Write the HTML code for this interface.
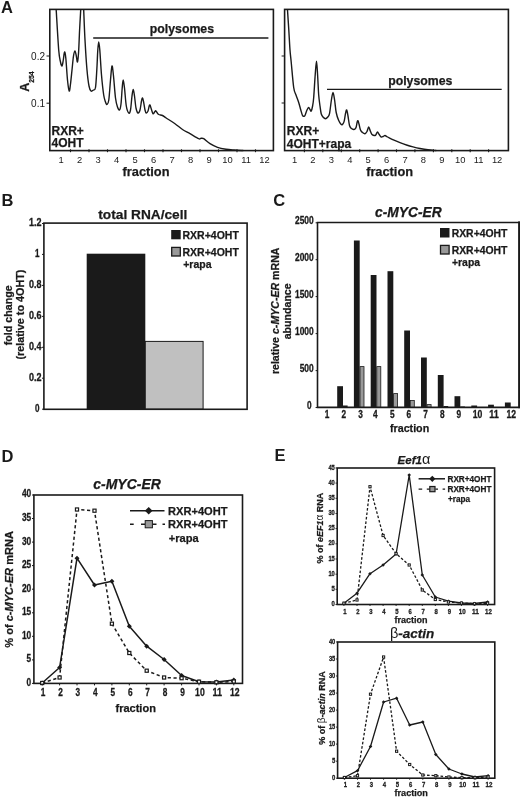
<!DOCTYPE html>
<html><head><meta charset="utf-8"><title>Figure</title>
<style>html,body{margin:0;padding:0;background:#fff}svg{display:block;filter:grayscale(1)}text{font-family:"Liberation Sans",Arial,sans-serif;fill:#1a1a1a}</style></head><body>
<svg width="520" height="797" viewBox="0 0 520 797">
<rect width="520" height="797" fill="#fff"/>
<text x="1" y="12.6" font-size="16.5" font-weight="bold" text-anchor="start">A</text>
<rect x="49.8" y="9.4" width="223.6" height="141.2" fill="none" stroke="#1a1a1a" stroke-width="1.6"/>
<path d="M56.2,10 C56.62,16.67 57.98,41.33 58.7,50 C59.42,58.67 59.95,59.33 60.5,62 C61.05,64.67 61.53,66.33 62,66 C62.47,65.67 62.88,62.33 63.3,60 C63.72,57.67 64.08,52.33 64.5,52 C64.92,51.67 65.30,53.33 65.8,58 C66.30,62.67 66.93,74.50 67.5,80 C68.07,85.50 68.70,90.33 69.2,91 C69.70,91.67 70.03,87.50 70.5,84 C70.97,80.50 71.50,74.67 72,70 C72.50,65.33 73.00,59.17 73.5,56 C74.00,52.83 74.53,51.00 75,51 C75.47,51.00 75.88,54.17 76.3,56 C76.72,57.83 77.12,62.67 77.5,62 C77.88,61.33 78.25,57.33 78.6,52 C78.95,46.67 79.25,37.00 79.6,30 C79.95,23.00 80.52,13.33 80.7,10" fill="none" stroke="#1a1a1a" stroke-width="1.4" stroke-linejoin="round" stroke-linecap="round"/>
<path d="M83.7,10 C83.92,15.00 84.45,30.00 85,40 C85.55,50.00 86.33,62.33 87,70 C87.67,77.67 88.33,82.50 89,86 C89.67,89.50 90.25,90.33 91,91 C91.75,91.67 92.75,90.58 93.5,90 C94.25,89.42 94.95,90.83 95.5,87.5 C96.05,84.17 96.42,76.25 96.8,70 C97.18,63.75 97.48,54.67 97.8,50 C98.12,45.33 98.37,42.00 98.7,42 C99.03,42.00 99.33,44.50 99.8,50 C100.27,55.50 100.85,67.50 101.5,75 C102.15,82.50 103.03,90.50 103.7,95 C104.37,99.50 104.95,100.42 105.5,102 C106.05,103.58 106.45,104.83 107,104.5 C107.55,104.17 108.22,104.08 108.8,100 C109.38,95.92 109.97,85.67 110.5,80 C111.03,74.33 111.50,66.67 112,66 C112.50,65.33 112.92,70.67 113.5,76 C114.08,81.33 114.83,92.83 115.5,98 C116.17,103.17 116.83,105.00 117.5,107 C118.17,109.00 118.92,110.50 119.5,110 C120.08,109.50 120.55,107.67 121,104 C121.45,100.33 121.83,92.00 122.2,88 C122.57,84.00 122.82,80.00 123.2,80 C123.58,80.00 123.98,83.67 124.5,88 C125.02,92.33 125.60,101.83 126.3,106 C127.00,110.17 128.00,112.33 128.7,113 C129.40,113.67 129.95,112.83 130.5,110 C131.05,107.17 131.55,99.42 132,96 C132.45,92.58 132.78,89.50 133.2,89.5 C133.62,89.50 134.03,92.92 134.5,96 C134.97,99.08 135.42,105.17 136,108 C136.58,110.83 137.33,112.67 138,113 C138.67,113.33 139.42,112.00 140,110 C140.58,108.00 141.08,103.00 141.5,101 C141.92,99.00 142.15,97.83 142.5,98 C142.85,98.17 143.18,100.00 143.6,102 C144.02,104.00 144.57,108.17 145,110 C145.43,111.83 145.70,112.83 146.2,113 C146.70,113.17 147.50,112.17 148,111 C148.50,109.83 148.87,107.00 149.2,106 C149.53,105.00 149.70,104.67 150,105 C150.30,105.33 150.50,106.55 151,108 C151.50,109.45 152.40,113.03 153,113.7 C153.60,114.37 154.15,112.50 154.6,112 C155.05,111.50 155.30,110.62 155.7,110.7 C156.10,110.78 156.50,111.87 157,112.5 C157.50,113.13 157.78,114.00 158.7,114.5 C159.62,115.00 161.25,114.92 162.5,115.5 C163.75,116.08 164.12,116.63 166.2,118 C168.28,119.37 172.28,121.78 175,123.7 C177.72,125.62 180.00,127.83 182.5,129.5 C185.00,131.17 187.30,132.17 190,133.7 C192.70,135.23 196.87,137.93 198.7,138.7 C200.53,139.47 200.17,138.30 201,138.3 C201.83,138.30 202.20,137.80 203.7,138.7 C205.20,139.60 207.70,142.27 210,143.7 C212.30,145.13 214.83,146.38 217.5,147.3 C220.17,148.22 223.25,148.75 226,149.2 C228.75,149.65 231.17,149.78 234,150 C236.83,150.22 241.50,150.42 243,150.5" fill="none" stroke="#1a1a1a" stroke-width="1.4" stroke-linejoin="round" stroke-linecap="round"/>
<line x1="93.2" y1="38" x2="268.4" y2="38" stroke="#1a1a1a" stroke-width="1.4"/>
<text x="181.9" y="33.4" font-size="12.3" font-weight="bold" text-anchor="middle" stroke="#1a1a1a" stroke-width="0.25">polysomes</text>
<line x1="46.5" y1="56" x2="49.8" y2="56" stroke="#1a1a1a" stroke-width="1"/>
<text x="45" y="59.6" font-size="10" font-weight="normal" text-anchor="end">0.2</text>
<line x1="46.5" y1="103.2" x2="49.8" y2="103.2" stroke="#1a1a1a" stroke-width="1"/>
<text x="45" y="106.8" font-size="10" font-weight="normal" text-anchor="end">0.1</text>
<text transform="translate(29.2,81.6) rotate(-90)" font-size="12.5" font-weight="bold" text-anchor="middle" stroke="#1a1a1a" stroke-width="0.25" >A<tspan font-size="6.9" dy="4.4">254</tspan></text>
<text x="51.5" y="134.6" font-size="12" font-weight="bold" text-anchor="start" stroke="#1a1a1a" stroke-width="0.25">RXR+</text>
<text x="51.5" y="147.2" font-size="12" font-weight="bold" text-anchor="start" stroke="#1a1a1a" stroke-width="0.25">4OHT</text>
<text x="61.0" y="162.6" font-size="9.4" font-weight="normal" text-anchor="middle">1</text>
<line x1="70.5" y1="149.3" x2="70.5" y2="152.2" stroke="#1a1a1a" stroke-width="1.1"/>
<text x="79.5" y="162.6" font-size="9.4" font-weight="normal" text-anchor="middle">2</text>
<line x1="89.0" y1="149.3" x2="89.0" y2="152.2" stroke="#1a1a1a" stroke-width="1.1"/>
<text x="98.0" y="162.6" font-size="9.4" font-weight="normal" text-anchor="middle">3</text>
<line x1="107.5" y1="149.3" x2="107.5" y2="152.2" stroke="#1a1a1a" stroke-width="1.1"/>
<text x="116.5" y="162.6" font-size="9.4" font-weight="normal" text-anchor="middle">4</text>
<line x1="126.0" y1="149.3" x2="126.0" y2="152.2" stroke="#1a1a1a" stroke-width="1.1"/>
<text x="135.0" y="162.6" font-size="9.4" font-weight="normal" text-anchor="middle">5</text>
<line x1="144.5" y1="149.3" x2="144.5" y2="152.2" stroke="#1a1a1a" stroke-width="1.1"/>
<text x="153.5" y="162.6" font-size="9.4" font-weight="normal" text-anchor="middle">6</text>
<line x1="163.0" y1="149.3" x2="163.0" y2="152.2" stroke="#1a1a1a" stroke-width="1.1"/>
<text x="172.0" y="162.6" font-size="9.4" font-weight="normal" text-anchor="middle">7</text>
<line x1="181.5" y1="149.3" x2="181.5" y2="152.2" stroke="#1a1a1a" stroke-width="1.1"/>
<text x="190.5" y="162.6" font-size="9.4" font-weight="normal" text-anchor="middle">8</text>
<line x1="200.0" y1="149.3" x2="200.0" y2="152.2" stroke="#1a1a1a" stroke-width="1.1"/>
<text x="209.0" y="162.6" font-size="9.4" font-weight="normal" text-anchor="middle">9</text>
<line x1="218.5" y1="149.3" x2="218.5" y2="152.2" stroke="#1a1a1a" stroke-width="1.1"/>
<text x="227.5" y="162.6" font-size="9.4" font-weight="normal" text-anchor="middle">10</text>
<line x1="237.0" y1="149.3" x2="237.0" y2="152.2" stroke="#1a1a1a" stroke-width="1.1"/>
<text x="246.0" y="162.6" font-size="9.4" font-weight="normal" text-anchor="middle">11</text>
<line x1="255.5" y1="149.3" x2="255.5" y2="152.2" stroke="#1a1a1a" stroke-width="1.1"/>
<text x="264.5" y="162.6" font-size="9.4" font-weight="normal" text-anchor="middle">12</text>
<text x="146" y="176" font-size="12.8" font-weight="bold" text-anchor="middle" stroke="#1a1a1a" stroke-width="0.25">fraction</text>
<rect x="284.6" y="9.4" width="223.8" height="141.2" fill="none" stroke="#1a1a1a" stroke-width="1.6"/>
<path d="M287.5,10 C287.72,13.33 288.38,23.33 288.8,30 C289.22,36.67 289.60,44.67 290,50 C290.40,55.33 290.58,55.75 291.2,62 C291.82,68.25 292.90,82.00 293.7,87.5 C294.50,93.00 295.17,92.50 296,95 C296.83,97.50 297.90,100.00 298.7,102.5 C299.50,105.00 300.17,107.83 300.8,110 C301.43,112.17 302.00,114.45 302.5,115.5 C303.00,116.55 303.38,116.30 303.8,116.3 C304.22,116.30 304.47,116.55 305,115.5 C305.53,114.45 306.38,111.33 307,110 C307.62,108.67 308.20,107.58 308.7,107.5 C309.20,107.42 309.58,108.88 310,109.5 C310.42,110.12 310.77,111.78 311.2,111.2 C311.63,110.62 312.18,108.28 312.6,106 C313.02,103.72 313.27,102.67 313.7,97.5 C314.13,92.33 314.73,81.05 315.2,75 C315.67,68.95 316.10,61.20 316.5,61.2 C316.90,61.20 317.23,69.37 317.6,75 C317.97,80.63 318.30,89.83 318.7,95 C319.10,100.17 319.58,102.88 320,106 C320.42,109.12 320.70,111.87 321.2,113.7 C321.70,115.53 322.28,116.17 323,117 C323.72,117.83 324.70,118.70 325.5,118.7 C326.30,118.70 327.13,117.83 327.8,117 C328.47,116.17 328.90,116.53 329.5,113.7 C330.10,110.87 330.82,103.53 331.4,100 C331.98,96.47 332.47,92.50 333,92.5 C333.53,92.50 334.07,96.67 334.6,100 C335.13,103.33 335.55,109.17 336.2,112.5 C336.85,115.83 337.67,118.00 338.5,120 C339.33,122.00 340.48,123.83 341.2,124.5 C341.92,125.17 342.30,124.55 342.8,124 C343.30,123.45 343.73,123.03 344.2,121.2 C344.67,119.37 345.18,114.87 345.6,113 C346.02,111.13 346.30,109.50 346.7,110 C347.10,110.50 347.53,113.42 348,116 C348.47,118.58 348.92,123.42 349.5,125.5 C350.08,127.58 350.80,127.83 351.5,128.5 C352.20,129.17 353.12,129.42 353.7,129.5 C354.28,129.58 354.58,129.42 355,129 C355.42,128.58 355.83,128.17 356.2,127 C356.57,125.83 356.90,123.05 357.2,122 C357.50,120.95 357.70,120.37 358,120.7 C358.30,121.03 358.58,122.45 359,124 C359.42,125.55 359.92,128.58 360.5,130 C361.08,131.42 361.75,131.88 362.5,132.5 C363.25,133.12 364.25,133.87 365,133.7 C365.75,133.53 366.38,132.62 367,131.5 C367.62,130.38 368.15,127.08 368.7,127 C369.25,126.92 369.75,129.75 370.3,131 C370.85,132.25 371.22,133.75 372,134.5 C372.78,135.25 374.28,135.58 375,135.5 C375.72,135.42 375.88,134.58 376.3,134 C376.72,133.42 377.02,131.92 377.5,132 C377.98,132.08 378.58,133.67 379.2,134.5 C379.82,135.33 380.53,136.67 381.2,137 C381.87,137.33 382.57,136.75 383.2,136.5 C383.83,136.25 384.40,135.48 385,135.5 C385.60,135.52 386.10,136.20 386.8,136.6 C387.50,137.00 388.00,137.30 389.2,137.9 C390.40,138.50 392.20,139.42 394,140.2 C395.80,140.98 397.92,141.80 400,142.6 C402.08,143.40 404.33,144.28 406.5,145 C408.67,145.72 410.75,146.32 413,146.9 C415.25,147.48 417.50,148.02 420,148.5 C422.50,148.98 425.33,149.47 428,149.8 C430.67,150.13 434.67,150.38 436,150.5" fill="none" stroke="#1a1a1a" stroke-width="1.4" stroke-linejoin="round" stroke-linecap="round"/>
<line x1="327" y1="89.4" x2="501.7" y2="89.4" stroke="#1a1a1a" stroke-width="1.4"/>
<text x="420.3" y="84.8" font-size="12.3" font-weight="bold" text-anchor="middle" stroke="#1a1a1a" stroke-width="0.25">polysomes</text>
<line x1="281.6" y1="56" x2="284.6" y2="56" stroke="#1a1a1a" stroke-width="1"/>
<line x1="281.6" y1="103" x2="284.6" y2="103" stroke="#1a1a1a" stroke-width="1"/>
<text x="286.8" y="134.6" font-size="12" font-weight="bold" text-anchor="start" stroke="#1a1a1a" stroke-width="0.25">RXR+</text>
<text x="286.8" y="147.6" font-size="12" font-weight="bold" text-anchor="start" stroke="#1a1a1a" stroke-width="0.25">4OHT+rapa</text>
<text x="294.5" y="162.6" font-size="9.4" font-weight="normal" text-anchor="middle">1</text>
<line x1="304.4" y1="149.3" x2="304.4" y2="152.2" stroke="#1a1a1a" stroke-width="1.1"/>
<text x="312.9" y="162.6" font-size="9.4" font-weight="normal" text-anchor="middle">2</text>
<line x1="322.8" y1="149.3" x2="322.8" y2="152.2" stroke="#1a1a1a" stroke-width="1.1"/>
<text x="331.3" y="162.6" font-size="9.4" font-weight="normal" text-anchor="middle">3</text>
<line x1="341.3" y1="149.3" x2="341.3" y2="152.2" stroke="#1a1a1a" stroke-width="1.1"/>
<text x="349.8" y="162.6" font-size="9.4" font-weight="normal" text-anchor="middle">4</text>
<line x1="359.7" y1="149.3" x2="359.7" y2="152.2" stroke="#1a1a1a" stroke-width="1.1"/>
<text x="368.2" y="162.6" font-size="9.4" font-weight="normal" text-anchor="middle">5</text>
<line x1="378.1" y1="149.3" x2="378.1" y2="152.2" stroke="#1a1a1a" stroke-width="1.1"/>
<text x="386.6" y="162.6" font-size="9.4" font-weight="normal" text-anchor="middle">6</text>
<line x1="396.5" y1="149.3" x2="396.5" y2="152.2" stroke="#1a1a1a" stroke-width="1.1"/>
<text x="405.0" y="162.6" font-size="9.4" font-weight="normal" text-anchor="middle">7</text>
<line x1="414.9" y1="149.3" x2="414.9" y2="152.2" stroke="#1a1a1a" stroke-width="1.1"/>
<text x="423.4" y="162.6" font-size="9.4" font-weight="normal" text-anchor="middle">8</text>
<line x1="433.4" y1="149.3" x2="433.4" y2="152.2" stroke="#1a1a1a" stroke-width="1.1"/>
<text x="441.9" y="162.6" font-size="9.4" font-weight="normal" text-anchor="middle">9</text>
<line x1="451.8" y1="149.3" x2="451.8" y2="152.2" stroke="#1a1a1a" stroke-width="1.1"/>
<text x="460.3" y="162.6" font-size="9.4" font-weight="normal" text-anchor="middle">10</text>
<line x1="470.2" y1="149.3" x2="470.2" y2="152.2" stroke="#1a1a1a" stroke-width="1.1"/>
<text x="478.7" y="162.6" font-size="9.4" font-weight="normal" text-anchor="middle">11</text>
<line x1="488.6" y1="149.3" x2="488.6" y2="152.2" stroke="#1a1a1a" stroke-width="1.1"/>
<text x="497.1" y="162.6" font-size="9.4" font-weight="normal" text-anchor="middle">12</text>
<text x="389.6" y="176.2" font-size="12.8" font-weight="bold" text-anchor="middle" stroke="#1a1a1a" stroke-width="0.25">fraction</text>
<text x="1.6" y="205.6" font-size="16.5" font-weight="bold" text-anchor="start">B</text>
<text x="142.8" y="218.7" font-size="13.7" font-weight="bold" text-anchor="middle" stroke="#1a1a1a" stroke-width="0.25">total RNA/cell</text>
<rect x="86.7" y="253.7" width="58.6" height="155.5" fill="#1a1a1a"/>
<rect x="145.3" y="341.4" width="57.8" height="67.8" fill="#c0c0c0" stroke="#1a1a1a" stroke-width="1"/>
<rect x="43.9" y="223.1" width="203.2" height="186.2" fill="none" stroke="#1a1a1a" stroke-width="1.6"/>
<line x1="42" y1="409.2" x2="44" y2="409.2" stroke="#1a1a1a" stroke-width="1"/>
<text x="39.4" y="411.8" font-size="10" font-weight="bold" text-anchor="end" textLength="4.5" lengthAdjust="spacingAndGlyphs" stroke="#1a1a1a" stroke-width="0.3">0</text>
<line x1="42" y1="378.2" x2="44" y2="378.2" stroke="#1a1a1a" stroke-width="1"/>
<text x="41.6" y="380.9" font-size="10" font-weight="bold" text-anchor="end" textLength="12.5" lengthAdjust="spacingAndGlyphs" stroke="#1a1a1a" stroke-width="0.3">0.2</text>
<line x1="42" y1="347.3" x2="44" y2="347.3" stroke="#1a1a1a" stroke-width="1"/>
<text x="41.6" y="349.9" font-size="10" font-weight="bold" text-anchor="end" textLength="12.5" lengthAdjust="spacingAndGlyphs" stroke="#1a1a1a" stroke-width="0.3">0.4</text>
<line x1="42" y1="316.4" x2="44" y2="316.4" stroke="#1a1a1a" stroke-width="1"/>
<text x="41.6" y="319.0" font-size="10" font-weight="bold" text-anchor="end" textLength="12.5" lengthAdjust="spacingAndGlyphs" stroke="#1a1a1a" stroke-width="0.3">0.6</text>
<line x1="42" y1="285.4" x2="44" y2="285.4" stroke="#1a1a1a" stroke-width="1"/>
<text x="41.6" y="288.0" font-size="10" font-weight="bold" text-anchor="end" textLength="12.5" lengthAdjust="spacingAndGlyphs" stroke="#1a1a1a" stroke-width="0.3">0.8</text>
<line x1="42" y1="254.4" x2="44" y2="254.4" stroke="#1a1a1a" stroke-width="1"/>
<text x="39.4" y="257.1" font-size="10" font-weight="bold" text-anchor="end" textLength="4.5" lengthAdjust="spacingAndGlyphs" stroke="#1a1a1a" stroke-width="0.3">1</text>
<line x1="42" y1="223.5" x2="44" y2="223.5" stroke="#1a1a1a" stroke-width="1"/>
<text x="41.6" y="226.1" font-size="10" font-weight="bold" text-anchor="end" textLength="12.5" lengthAdjust="spacingAndGlyphs" stroke="#1a1a1a" stroke-width="0.3">1.2</text>
<text transform="translate(12.4,315.3) rotate(-90)" font-size="10.7" font-weight="bold" text-anchor="middle" stroke="#1a1a1a" stroke-width="0.25" >fold change</text>
<text transform="translate(24.3,314.6) rotate(-90)" font-size="10.8" font-weight="bold" text-anchor="middle" stroke="#1a1a1a" stroke-width="0.25" >(relative to 4OHT)</text>
<rect x="171.2" y="230" width="9.5" height="9.3" fill="#1a1a1a"/>
<text x="182.5" y="238.8" font-size="10.5" font-weight="bold" text-anchor="start" stroke="#1a1a1a" stroke-width="0.25">RXR+4OHT</text>
<rect x="171.7" y="247.4" width="8.6" height="8.6" fill="#999" stroke="#1a1a1a" stroke-width="1.3"/>
<text x="182.5" y="255.8" font-size="10.5" font-weight="bold" text-anchor="start" stroke="#1a1a1a" stroke-width="0.25">RXR+4OHT</text>
<text x="183.2" y="268.2" font-size="10.5" font-weight="bold" text-anchor="start" stroke="#1a1a1a" stroke-width="0.25">+rapa</text>
<text x="273.2" y="205.6" font-size="16.5" font-weight="bold" text-anchor="start">C</text>
<text x="408.4" y="216.8" font-size="13.8" font-weight="bold" text-anchor="middle" font-style="italic" stroke="#1a1a1a" stroke-width="0.25">c-MYC-ER</text>
<text x="327" y="418.0" font-size="10" font-weight="bold" text-anchor="middle" textLength="4.6" lengthAdjust="spacingAndGlyphs" stroke="#1a1a1a" stroke-width="0.3">1</text>
<rect x="337.2" y="386.2" width="5.8" height="21.3" fill="#1a1a1a"/>
<rect x="343.0" y="405.5" width="4.6" height="2.0" fill="#1a1a1a"/>
<text x="343.8" y="418.0" font-size="10" font-weight="bold" text-anchor="middle" textLength="4.6" lengthAdjust="spacingAndGlyphs" stroke="#1a1a1a" stroke-width="0.3">2</text>
<rect x="353.9" y="240.5" width="5.8" height="167.0" fill="#1a1a1a"/>
<rect x="360.0" y="366.59999999999997" width="4" height="40.9" fill="#999" stroke="#1a1a1a" stroke-width="0.8"/>
<text x="360.5" y="418.0" font-size="10" font-weight="bold" text-anchor="middle" textLength="4.6" lengthAdjust="spacingAndGlyphs" stroke="#1a1a1a" stroke-width="0.3">3</text>
<rect x="370.7" y="275" width="5.8" height="132.5" fill="#1a1a1a"/>
<rect x="376.8" y="366.59999999999997" width="4" height="40.9" fill="#999" stroke="#1a1a1a" stroke-width="0.8"/>
<text x="375.2" y="418.0" font-size="10" font-weight="bold" text-anchor="middle" textLength="4.6" lengthAdjust="spacingAndGlyphs" stroke="#1a1a1a" stroke-width="0.3">4</text>
<rect x="387.5" y="271.2" width="5.8" height="136.3" fill="#1a1a1a"/>
<rect x="393.6" y="393.59999999999997" width="4" height="13.9" fill="#999" stroke="#1a1a1a" stroke-width="0.8"/>
<text x="392.2" y="418.0" font-size="10" font-weight="bold" text-anchor="middle" textLength="4.6" lengthAdjust="spacingAndGlyphs" stroke="#1a1a1a" stroke-width="0.3">5</text>
<rect x="404.2" y="330.5" width="5.8" height="77.0" fill="#1a1a1a"/>
<rect x="410.3" y="400.4" width="4" height="7.1" fill="#999" stroke="#1a1a1a" stroke-width="0.8"/>
<text x="408.8" y="418.0" font-size="10" font-weight="bold" text-anchor="middle" textLength="4.6" lengthAdjust="spacingAndGlyphs" stroke="#1a1a1a" stroke-width="0.3">6</text>
<rect x="421.0" y="357.5" width="5.8" height="50.0" fill="#1a1a1a"/>
<rect x="427.1" y="404.59999999999997" width="4" height="2.9" fill="#999" stroke="#1a1a1a" stroke-width="0.8"/>
<text x="425.5" y="418.0" font-size="10" font-weight="bold" text-anchor="middle" textLength="4.6" lengthAdjust="spacingAndGlyphs" stroke="#1a1a1a" stroke-width="0.3">7</text>
<rect x="437.8" y="375" width="5.8" height="32.5" fill="#1a1a1a"/>
<rect x="443.6" y="406" width="4.6" height="1.5" fill="#1a1a1a"/>
<text x="442.2" y="418.0" font-size="10" font-weight="bold" text-anchor="middle" textLength="4.6" lengthAdjust="spacingAndGlyphs" stroke="#1a1a1a" stroke-width="0.3">8</text>
<rect x="454.5" y="396.2" width="5.8" height="11.3" fill="#1a1a1a"/>
<rect x="460.3" y="406.5" width="4.6" height="1.0" fill="#1a1a1a"/>
<text x="458.8" y="418.0" font-size="10" font-weight="bold" text-anchor="middle" textLength="4.6" lengthAdjust="spacingAndGlyphs" stroke="#1a1a1a" stroke-width="0.3">9</text>
<rect x="471.3" y="405.5" width="5.8" height="2.0" fill="#1a1a1a"/>
<text x="477.5" y="418.0" font-size="10" font-weight="bold" text-anchor="middle" textLength="9.6" lengthAdjust="spacingAndGlyphs" stroke="#1a1a1a" stroke-width="0.3">10</text>
<rect x="488.1" y="404.7" width="5.8" height="2.8" fill="#1a1a1a"/>
<text x="494" y="418.0" font-size="10" font-weight="bold" text-anchor="middle" textLength="9.6" lengthAdjust="spacingAndGlyphs" stroke="#1a1a1a" stroke-width="0.3">11</text>
<rect x="504.9" y="402.5" width="5.8" height="5.0" fill="#1a1a1a"/>
<text x="511.3" y="418.0" font-size="10" font-weight="bold" text-anchor="middle" textLength="9.6" lengthAdjust="spacingAndGlyphs" stroke="#1a1a1a" stroke-width="0.3">12</text>
<path d="M520,222.5 H317.5 V407.4 H520" fill="none" stroke="#1a1a1a" stroke-width="1.6"/>
<rect x="518.1" y="221.4" width="2" height="186.8" fill="#1a1a1a"/>
<line x1="315.6" y1="407.5" x2="317.6" y2="407.5" stroke="#1a1a1a" stroke-width="1"/>
<text x="311.5" y="409.1" font-size="10" font-weight="bold" text-anchor="end" textLength="4.6" lengthAdjust="spacingAndGlyphs" stroke="#1a1a1a" stroke-width="0.3">0</text>
<line x1="315.6" y1="370.6" x2="317.6" y2="370.6" stroke="#1a1a1a" stroke-width="1"/>
<text x="313.7" y="372.2" font-size="10" font-weight="bold" text-anchor="end" textLength="14" lengthAdjust="spacingAndGlyphs" stroke="#1a1a1a" stroke-width="0.3">500</text>
<line x1="315.6" y1="333.6" x2="317.6" y2="333.6" stroke="#1a1a1a" stroke-width="1"/>
<text x="313.7" y="335.2" font-size="10" font-weight="bold" text-anchor="end" textLength="18.7" lengthAdjust="spacingAndGlyphs" stroke="#1a1a1a" stroke-width="0.3">1000</text>
<line x1="315.6" y1="296.6" x2="317.6" y2="296.6" stroke="#1a1a1a" stroke-width="1"/>
<text x="313.7" y="298.2" font-size="10" font-weight="bold" text-anchor="end" textLength="18.7" lengthAdjust="spacingAndGlyphs" stroke="#1a1a1a" stroke-width="0.3">1500</text>
<line x1="315.6" y1="259.7" x2="317.6" y2="259.7" stroke="#1a1a1a" stroke-width="1"/>
<text x="313.7" y="261.3" font-size="10" font-weight="bold" text-anchor="end" textLength="18.7" lengthAdjust="spacingAndGlyphs" stroke="#1a1a1a" stroke-width="0.3">2000</text>
<line x1="315.6" y1="222.8" x2="317.6" y2="222.8" stroke="#1a1a1a" stroke-width="1"/>
<text x="313.7" y="224.3" font-size="10" font-weight="bold" text-anchor="end" textLength="18.7" lengthAdjust="spacingAndGlyphs" stroke="#1a1a1a" stroke-width="0.3">2500</text>
<text transform="translate(279.2,310.8) rotate(-90)" font-size="10.6" font-weight="bold" text-anchor="middle" stroke="#1a1a1a" stroke-width="0.25" >relative <tspan font-style="italic">c-MYC-ER</tspan> mRNA</text>
<text transform="translate(291.2,311.3) rotate(-90)" font-size="10.6" font-weight="bold" text-anchor="middle" stroke="#1a1a1a" stroke-width="0.25" >abundance</text>
<rect x="440" y="228" width="9.5" height="9.5" fill="#1a1a1a"/>
<text x="451.7" y="236.8" font-size="10.4" font-weight="bold" text-anchor="start" stroke="#1a1a1a" stroke-width="0.25">RXR+4OHT</text>
<rect x="440.5" y="245.4" width="8.6" height="8.6" fill="#999" stroke="#1a1a1a" stroke-width="1.3"/>
<text x="451.7" y="253.8" font-size="10.4" font-weight="bold" text-anchor="start" stroke="#1a1a1a" stroke-width="0.25">RXR+4OHT</text>
<text x="452" y="265.8" font-size="10.4" font-weight="bold" text-anchor="start" stroke="#1a1a1a" stroke-width="0.25">+rapa</text>
<text x="409.6" y="431.6" font-size="10.7" font-weight="bold" text-anchor="middle" stroke="#1a1a1a" stroke-width="0.25">fraction</text>
<text x="1.6" y="462" font-size="16.5" font-weight="bold" text-anchor="start">D</text>
<text x="127.1" y="488.8" font-size="14" font-weight="bold" text-anchor="middle" font-style="italic" stroke="#1a1a1a" stroke-width="0.25">c-MYC-ER</text>
<rect x="33.9" y="495" width="208.6" height="188.4" fill="none" stroke="#1a1a1a" stroke-width="1.6"/>
<path d="M42.2,683 L59.6,667.5 L77.0,558.2 L94.5,585 L111.9,581.2 L129.3,626.2 L146.7,646.2 L164.1,659.5 L181.6,675.5 L199.0,681.7 L216.4,682 L233.8,680" fill="none" stroke="#1a1a1a" stroke-width="1.5" stroke-linejoin="round"/>
<path d="M42.2,683 L59.6,677.5 L77.0,509.5 L94.5,510.7 L111.9,623.7 L129.3,653 L146.7,670.7 L164.1,677.5 L181.6,678.2 L199.0,681.7 L216.4,682.3 L233.8,681.5" fill="none" stroke="#1a1a1a" stroke-width="1.5" stroke-dasharray="3.2,2.6" stroke-linejoin="round"/>
<path d="M39.7,683 L42.2,680.5 L44.7,683 L42.2,685.5Z" fill="#1a1a1a"/>
<path d="M57.1,667.5 L59.6,665.0 L62.1,667.5 L59.6,670.0Z" fill="#1a1a1a"/>
<path d="M74.5,558.2 L77.0,555.7 L79.5,558.2 L77.0,560.7Z" fill="#1a1a1a"/>
<path d="M92.0,585 L94.5,582.5 L97.0,585 L94.5,587.5Z" fill="#1a1a1a"/>
<path d="M109.4,581.2 L111.9,578.7 L114.4,581.2 L111.9,583.7Z" fill="#1a1a1a"/>
<path d="M126.80000000000001,626.2 L129.3,623.7 L131.8,626.2 L129.3,628.7Z" fill="#1a1a1a"/>
<path d="M144.2,646.2 L146.7,643.7 L149.2,646.2 L146.7,648.7Z" fill="#1a1a1a"/>
<path d="M161.6,659.5 L164.1,657.0 L166.6,659.5 L164.1,662.0Z" fill="#1a1a1a"/>
<path d="M179.1,675.5 L181.6,673.0 L184.1,675.5 L181.6,678.0Z" fill="#1a1a1a"/>
<path d="M196.5,681.7 L199.0,679.2 L201.5,681.7 L199.0,684.2Z" fill="#1a1a1a"/>
<path d="M213.9,682 L216.4,679.5 L218.9,682 L216.4,684.5Z" fill="#1a1a1a"/>
<path d="M231.3,680 L233.8,677.5 L236.3,680 L233.8,682.5Z" fill="#1a1a1a"/>
<rect x="40.650000000000006" y="681.45" width="3.1" height="3.1" fill="#fff" stroke="#1a1a1a" stroke-width="1.2"/>
<rect x="58.050000000000004" y="675.95" width="3.1" height="3.1" fill="#fff" stroke="#1a1a1a" stroke-width="1.2"/>
<rect x="75.45" y="507.95" width="3.1" height="3.1" fill="#fff" stroke="#1a1a1a" stroke-width="1.2"/>
<rect x="92.95" y="509.15" width="3.1" height="3.1" fill="#fff" stroke="#1a1a1a" stroke-width="1.2"/>
<rect x="110.35000000000001" y="622.1500000000001" width="3.1" height="3.1" fill="#fff" stroke="#1a1a1a" stroke-width="1.2"/>
<rect x="127.75000000000001" y="651.45" width="3.1" height="3.1" fill="#fff" stroke="#1a1a1a" stroke-width="1.2"/>
<rect x="145.14999999999998" y="669.1500000000001" width="3.1" height="3.1" fill="#fff" stroke="#1a1a1a" stroke-width="1.2"/>
<rect x="162.54999999999998" y="675.95" width="3.1" height="3.1" fill="#fff" stroke="#1a1a1a" stroke-width="1.2"/>
<rect x="180.04999999999998" y="676.6500000000001" width="3.1" height="3.1" fill="#fff" stroke="#1a1a1a" stroke-width="1.2"/>
<rect x="197.45" y="680.1500000000001" width="3.1" height="3.1" fill="#fff" stroke="#1a1a1a" stroke-width="1.2"/>
<rect x="214.85" y="680.75" width="3.1" height="3.1" fill="#fff" stroke="#1a1a1a" stroke-width="1.2"/>
<rect x="232.25" y="679.95" width="3.1" height="3.1" fill="#fff" stroke="#1a1a1a" stroke-width="1.2"/>
<line x1="32" y1="683.4" x2="34" y2="683.4" stroke="#1a1a1a" stroke-width="1"/>
<text x="31.2" y="685.8" font-size="10.5" font-weight="bold" text-anchor="end" textLength="4.6" lengthAdjust="spacingAndGlyphs" stroke="#1a1a1a" stroke-width="0.3">0</text>
<line x1="32" y1="659.9" x2="34" y2="659.9" stroke="#1a1a1a" stroke-width="1"/>
<text x="31.2" y="662.2" font-size="10.5" font-weight="bold" text-anchor="end" textLength="4.6" lengthAdjust="spacingAndGlyphs" stroke="#1a1a1a" stroke-width="0.3">5</text>
<line x1="32" y1="636.3" x2="34" y2="636.3" stroke="#1a1a1a" stroke-width="1"/>
<text x="31.2" y="638.7" font-size="10.5" font-weight="bold" text-anchor="end" textLength="9.3" lengthAdjust="spacingAndGlyphs" stroke="#1a1a1a" stroke-width="0.3">10</text>
<line x1="32" y1="612.8" x2="34" y2="612.8" stroke="#1a1a1a" stroke-width="1"/>
<text x="31.2" y="615.1" font-size="10.5" font-weight="bold" text-anchor="end" textLength="9.3" lengthAdjust="spacingAndGlyphs" stroke="#1a1a1a" stroke-width="0.3">15</text>
<line x1="32" y1="589.2" x2="34" y2="589.2" stroke="#1a1a1a" stroke-width="1"/>
<text x="31.2" y="591.6" font-size="10.5" font-weight="bold" text-anchor="end" textLength="9.3" lengthAdjust="spacingAndGlyphs" stroke="#1a1a1a" stroke-width="0.3">20</text>
<line x1="32" y1="565.6" x2="34" y2="565.6" stroke="#1a1a1a" stroke-width="1"/>
<text x="31.2" y="568.0" font-size="10.5" font-weight="bold" text-anchor="end" textLength="9.3" lengthAdjust="spacingAndGlyphs" stroke="#1a1a1a" stroke-width="0.3">25</text>
<line x1="32" y1="542.1" x2="34" y2="542.1" stroke="#1a1a1a" stroke-width="1"/>
<text x="31.2" y="544.5" font-size="10.5" font-weight="bold" text-anchor="end" textLength="9.3" lengthAdjust="spacingAndGlyphs" stroke="#1a1a1a" stroke-width="0.3">30</text>
<line x1="32" y1="518.5" x2="34" y2="518.5" stroke="#1a1a1a" stroke-width="1"/>
<text x="31.2" y="520.9" font-size="10.5" font-weight="bold" text-anchor="end" textLength="9.3" lengthAdjust="spacingAndGlyphs" stroke="#1a1a1a" stroke-width="0.3">35</text>
<line x1="32" y1="495.0" x2="34" y2="495.0" stroke="#1a1a1a" stroke-width="1"/>
<text x="31.2" y="497.4" font-size="10.5" font-weight="bold" text-anchor="end" textLength="9.3" lengthAdjust="spacingAndGlyphs" stroke="#1a1a1a" stroke-width="0.3">40</text>
<line x1="42.2" y1="683.4" x2="42.2" y2="685.4" stroke="#1a1a1a" stroke-width="1"/>
<text x="43.1" y="696.2" font-size="10.5" font-weight="bold" text-anchor="middle" textLength="4.6" lengthAdjust="spacingAndGlyphs" stroke="#1a1a1a" stroke-width="0.3">1</text>
<line x1="59.6" y1="683.4" x2="59.6" y2="685.4" stroke="#1a1a1a" stroke-width="1"/>
<text x="60.5" y="696.2" font-size="10.5" font-weight="bold" text-anchor="middle" textLength="4.6" lengthAdjust="spacingAndGlyphs" stroke="#1a1a1a" stroke-width="0.3">2</text>
<line x1="77.0" y1="683.4" x2="77.0" y2="685.4" stroke="#1a1a1a" stroke-width="1"/>
<text x="77.9" y="696.2" font-size="10.5" font-weight="bold" text-anchor="middle" textLength="4.6" lengthAdjust="spacingAndGlyphs" stroke="#1a1a1a" stroke-width="0.3">3</text>
<line x1="94.5" y1="683.4" x2="94.5" y2="685.4" stroke="#1a1a1a" stroke-width="1"/>
<text x="95.4" y="696.2" font-size="10.5" font-weight="bold" text-anchor="middle" textLength="4.6" lengthAdjust="spacingAndGlyphs" stroke="#1a1a1a" stroke-width="0.3">4</text>
<line x1="111.9" y1="683.4" x2="111.9" y2="685.4" stroke="#1a1a1a" stroke-width="1"/>
<text x="112.8" y="696.2" font-size="10.5" font-weight="bold" text-anchor="middle" textLength="4.6" lengthAdjust="spacingAndGlyphs" stroke="#1a1a1a" stroke-width="0.3">5</text>
<line x1="129.3" y1="683.4" x2="129.3" y2="685.4" stroke="#1a1a1a" stroke-width="1"/>
<text x="130.2" y="696.2" font-size="10.5" font-weight="bold" text-anchor="middle" textLength="4.6" lengthAdjust="spacingAndGlyphs" stroke="#1a1a1a" stroke-width="0.3">6</text>
<line x1="146.7" y1="683.4" x2="146.7" y2="685.4" stroke="#1a1a1a" stroke-width="1"/>
<text x="147.6" y="696.2" font-size="10.5" font-weight="bold" text-anchor="middle" textLength="4.6" lengthAdjust="spacingAndGlyphs" stroke="#1a1a1a" stroke-width="0.3">7</text>
<line x1="164.1" y1="683.4" x2="164.1" y2="685.4" stroke="#1a1a1a" stroke-width="1"/>
<text x="165.0" y="696.2" font-size="10.5" font-weight="bold" text-anchor="middle" textLength="4.6" lengthAdjust="spacingAndGlyphs" stroke="#1a1a1a" stroke-width="0.3">8</text>
<line x1="181.6" y1="683.4" x2="181.6" y2="685.4" stroke="#1a1a1a" stroke-width="1"/>
<text x="182.5" y="696.2" font-size="10.5" font-weight="bold" text-anchor="middle" textLength="4.6" lengthAdjust="spacingAndGlyphs" stroke="#1a1a1a" stroke-width="0.3">9</text>
<line x1="199.0" y1="683.4" x2="199.0" y2="685.4" stroke="#1a1a1a" stroke-width="1"/>
<text x="199.9" y="696.2" font-size="10.5" font-weight="bold" text-anchor="middle" textLength="9.6" lengthAdjust="spacingAndGlyphs" stroke="#1a1a1a" stroke-width="0.3">10</text>
<line x1="216.4" y1="683.4" x2="216.4" y2="685.4" stroke="#1a1a1a" stroke-width="1"/>
<text x="217.3" y="696.2" font-size="10.5" font-weight="bold" text-anchor="middle" textLength="9.6" lengthAdjust="spacingAndGlyphs" stroke="#1a1a1a" stroke-width="0.3">11</text>
<line x1="233.8" y1="683.4" x2="233.8" y2="685.4" stroke="#1a1a1a" stroke-width="1"/>
<text x="234.7" y="696.2" font-size="10.5" font-weight="bold" text-anchor="middle" textLength="9.6" lengthAdjust="spacingAndGlyphs" stroke="#1a1a1a" stroke-width="0.3">12</text>
<text transform="translate(13.2,589.4) rotate(-90)" font-size="11.05" font-weight="bold" text-anchor="middle" stroke="#1a1a1a" stroke-width="0.25" >% of <tspan font-style="italic">c-MYC-ER</tspan> mRNA</text>
<text x="135.7" y="712" font-size="11" font-weight="bold" text-anchor="middle" stroke="#1a1a1a" stroke-width="0.25">fraction</text>
<line x1="130" y1="510.7" x2="164.5" y2="510.7" stroke="#1a1a1a" stroke-width="1.5"/>
<path d="M144.89999999999998,510.7 L148.7,506.9 L152.5,510.7 L148.7,514.5Z" fill="#1a1a1a"/>
<text x="168" y="514.6" font-size="11.1" font-weight="bold" text-anchor="start" stroke="#1a1a1a" stroke-width="0.25">RXR+4OHT</text>
<path d="M130,524.2 h3.7 M141,524.2 h4 M152.5,524.2 h4 M162.5,524.2 h2.5" stroke="#1a1a1a" stroke-width="1.5"/>
<rect x="145.20000000000002" y="520.6" width="7.2" height="7.2" fill="#999" stroke="#1a1a1a" stroke-width="1"/>
<text x="168" y="528" font-size="11.1" font-weight="bold" text-anchor="start" stroke="#1a1a1a" stroke-width="0.25">RXR+4OHT</text>
<text x="168.7" y="541.6" font-size="11.1" font-weight="bold" text-anchor="start" stroke="#1a1a1a" stroke-width="0.25">+rapa</text>
<text x="274.6" y="461.4" font-size="16.5" font-weight="bold" text-anchor="start">E</text>
<text x="397.5" y="464.2" font-size="11.6" font-weight="bold" font-style="italic" stroke="#1a1a1a" stroke-width="0.25">Eef1<tspan font-weight="normal" font-style="normal" stroke="none" font-size="14.5">&#945;</tspan></text>
<rect x="337.2" y="468" width="157.4" height="136.5" fill="none" stroke="#1a1a1a" stroke-width="1.6"/>
<path d="M343.9,603.2 L357.0,593.2 L370.0,573.7 L383.1,565 L396.1,554 L409.2,475 L422.3,575 L435.3,597 L448.4,601.2 L461.4,603 L474.5,603.5 L487.6,602" fill="none" stroke="#1a1a1a" stroke-width="1.3" stroke-linejoin="round"/>
<path d="M343.9,603.2 L357.0,600 L370.0,486.7 L383.1,535.5 L396.1,553.7 L409.2,565 L422.3,590 L435.3,599.5 L448.4,602 L461.4,603 L474.5,603.8 L487.6,603.2" fill="none" stroke="#1a1a1a" stroke-width="1.3" stroke-dasharray="2.6,1.9" stroke-linejoin="round"/>
<path d="M342.09999999999997,603.2 L343.9,601.4000000000001 L345.7,603.2 L343.9,605.0Z" fill="#1a1a1a"/>
<path d="M355.2,593.2 L357.0,591.4000000000001 L358.8,593.2 L357.0,595.0Z" fill="#1a1a1a"/>
<path d="M368.2,573.7 L370.0,571.9000000000001 L371.8,573.7 L370.0,575.5Z" fill="#1a1a1a"/>
<path d="M381.3,565 L383.1,563.2 L384.90000000000003,565 L383.1,566.8Z" fill="#1a1a1a"/>
<path d="M394.3,554 L396.1,552.2 L397.90000000000003,554 L396.1,555.8Z" fill="#1a1a1a"/>
<path d="M407.4,475 L409.2,473.2 L411.0,475 L409.2,476.8Z" fill="#1a1a1a"/>
<path d="M420.5,575 L422.3,573.2 L424.1,575 L422.3,576.8Z" fill="#1a1a1a"/>
<path d="M433.5,597 L435.3,595.2 L437.1,597 L435.3,598.8Z" fill="#1a1a1a"/>
<path d="M446.59999999999997,601.2 L448.4,599.4000000000001 L450.2,601.2 L448.4,603.0Z" fill="#1a1a1a"/>
<path d="M459.59999999999997,603 L461.4,601.2 L463.2,603 L461.4,604.8Z" fill="#1a1a1a"/>
<path d="M472.7,603.5 L474.5,601.7 L476.3,603.5 L474.5,605.3Z" fill="#1a1a1a"/>
<path d="M485.8,602 L487.6,600.2 L489.40000000000003,602 L487.6,603.8Z" fill="#1a1a1a"/>
<rect x="342.79999999999995" y="602.1" width="2.2" height="2.2" fill="#fff" stroke="#1a1a1a" stroke-width="1.0"/>
<rect x="355.9" y="598.9" width="2.2" height="2.2" fill="#fff" stroke="#1a1a1a" stroke-width="1.0"/>
<rect x="368.9" y="485.59999999999997" width="2.2" height="2.2" fill="#fff" stroke="#1a1a1a" stroke-width="1.0"/>
<rect x="382.0" y="534.4" width="2.2" height="2.2" fill="#fff" stroke="#1a1a1a" stroke-width="1.0"/>
<rect x="395.0" y="552.6" width="2.2" height="2.2" fill="#fff" stroke="#1a1a1a" stroke-width="1.0"/>
<rect x="408.09999999999997" y="563.9" width="2.2" height="2.2" fill="#fff" stroke="#1a1a1a" stroke-width="1.0"/>
<rect x="421.2" y="588.9" width="2.2" height="2.2" fill="#fff" stroke="#1a1a1a" stroke-width="1.0"/>
<rect x="434.2" y="598.4" width="2.2" height="2.2" fill="#fff" stroke="#1a1a1a" stroke-width="1.0"/>
<rect x="447.29999999999995" y="600.9" width="2.2" height="2.2" fill="#fff" stroke="#1a1a1a" stroke-width="1.0"/>
<rect x="460.29999999999995" y="601.9" width="2.2" height="2.2" fill="#fff" stroke="#1a1a1a" stroke-width="1.0"/>
<rect x="473.4" y="602.6999999999999" width="2.2" height="2.2" fill="#fff" stroke="#1a1a1a" stroke-width="1.0"/>
<rect x="486.5" y="602.1" width="2.2" height="2.2" fill="#fff" stroke="#1a1a1a" stroke-width="1.0"/>
<line x1="335.5" y1="604.5" x2="337.2" y2="604.5" stroke="#1a1a1a" stroke-width="0.9"/>
<text x="334.8" y="606.0" font-size="8" font-weight="bold" text-anchor="end" textLength="3.3" lengthAdjust="spacingAndGlyphs" stroke="#1a1a1a" stroke-width="0.3">0</text>
<line x1="335.5" y1="589.3" x2="337.2" y2="589.3" stroke="#1a1a1a" stroke-width="0.9"/>
<text x="334.8" y="590.8" font-size="8" font-weight="bold" text-anchor="end" textLength="3.3" lengthAdjust="spacingAndGlyphs" stroke="#1a1a1a" stroke-width="0.3">5</text>
<line x1="335.5" y1="574.2" x2="337.2" y2="574.2" stroke="#1a1a1a" stroke-width="0.9"/>
<text x="334.8" y="575.7" font-size="8" font-weight="bold" text-anchor="end" textLength="6.4" lengthAdjust="spacingAndGlyphs" stroke="#1a1a1a" stroke-width="0.3">10</text>
<line x1="335.5" y1="559.0" x2="337.2" y2="559.0" stroke="#1a1a1a" stroke-width="0.9"/>
<text x="334.8" y="560.5" font-size="8" font-weight="bold" text-anchor="end" textLength="6.4" lengthAdjust="spacingAndGlyphs" stroke="#1a1a1a" stroke-width="0.3">15</text>
<line x1="335.5" y1="543.8" x2="337.2" y2="543.8" stroke="#1a1a1a" stroke-width="0.9"/>
<text x="334.8" y="545.3" font-size="8" font-weight="bold" text-anchor="end" textLength="6.4" lengthAdjust="spacingAndGlyphs" stroke="#1a1a1a" stroke-width="0.3">20</text>
<line x1="335.5" y1="528.6" x2="337.2" y2="528.6" stroke="#1a1a1a" stroke-width="0.9"/>
<text x="334.8" y="530.1" font-size="8" font-weight="bold" text-anchor="end" textLength="6.4" lengthAdjust="spacingAndGlyphs" stroke="#1a1a1a" stroke-width="0.3">25</text>
<line x1="335.5" y1="513.5" x2="337.2" y2="513.5" stroke="#1a1a1a" stroke-width="0.9"/>
<text x="334.8" y="515.0" font-size="8" font-weight="bold" text-anchor="end" textLength="6.4" lengthAdjust="spacingAndGlyphs" stroke="#1a1a1a" stroke-width="0.3">30</text>
<line x1="335.5" y1="498.3" x2="337.2" y2="498.3" stroke="#1a1a1a" stroke-width="0.9"/>
<text x="334.8" y="499.8" font-size="8" font-weight="bold" text-anchor="end" textLength="6.4" lengthAdjust="spacingAndGlyphs" stroke="#1a1a1a" stroke-width="0.3">35</text>
<line x1="335.5" y1="483.1" x2="337.2" y2="483.1" stroke="#1a1a1a" stroke-width="0.9"/>
<text x="334.8" y="484.6" font-size="8" font-weight="bold" text-anchor="end" textLength="6.4" lengthAdjust="spacingAndGlyphs" stroke="#1a1a1a" stroke-width="0.3">40</text>
<line x1="335.5" y1="468.0" x2="337.2" y2="468.0" stroke="#1a1a1a" stroke-width="0.9"/>
<text x="334.8" y="469.5" font-size="8" font-weight="bold" text-anchor="end" textLength="6.4" lengthAdjust="spacingAndGlyphs" stroke="#1a1a1a" stroke-width="0.3">45</text>
<line x1="343.9" y1="604.5" x2="343.9" y2="606" stroke="#1a1a1a" stroke-width="0.9"/>
<text x="344.8" y="613.9" font-size="8" font-weight="bold" text-anchor="middle" textLength="3.3" lengthAdjust="spacingAndGlyphs" stroke="#1a1a1a" stroke-width="0.3">1</text>
<line x1="357.0" y1="604.5" x2="357.0" y2="606" stroke="#1a1a1a" stroke-width="0.9"/>
<text x="357.9" y="613.9" font-size="8" font-weight="bold" text-anchor="middle" textLength="3.3" lengthAdjust="spacingAndGlyphs" stroke="#1a1a1a" stroke-width="0.3">2</text>
<line x1="370.0" y1="604.5" x2="370.0" y2="606" stroke="#1a1a1a" stroke-width="0.9"/>
<text x="370.9" y="613.9" font-size="8" font-weight="bold" text-anchor="middle" textLength="3.3" lengthAdjust="spacingAndGlyphs" stroke="#1a1a1a" stroke-width="0.3">3</text>
<line x1="383.1" y1="604.5" x2="383.1" y2="606" stroke="#1a1a1a" stroke-width="0.9"/>
<text x="384.0" y="613.9" font-size="8" font-weight="bold" text-anchor="middle" textLength="3.3" lengthAdjust="spacingAndGlyphs" stroke="#1a1a1a" stroke-width="0.3">4</text>
<line x1="396.1" y1="604.5" x2="396.1" y2="606" stroke="#1a1a1a" stroke-width="0.9"/>
<text x="397.0" y="613.9" font-size="8" font-weight="bold" text-anchor="middle" textLength="3.3" lengthAdjust="spacingAndGlyphs" stroke="#1a1a1a" stroke-width="0.3">5</text>
<line x1="409.2" y1="604.5" x2="409.2" y2="606" stroke="#1a1a1a" stroke-width="0.9"/>
<text x="410.1" y="613.9" font-size="8" font-weight="bold" text-anchor="middle" textLength="3.3" lengthAdjust="spacingAndGlyphs" stroke="#1a1a1a" stroke-width="0.3">6</text>
<line x1="422.3" y1="604.5" x2="422.3" y2="606" stroke="#1a1a1a" stroke-width="0.9"/>
<text x="423.2" y="613.9" font-size="8" font-weight="bold" text-anchor="middle" textLength="3.3" lengthAdjust="spacingAndGlyphs" stroke="#1a1a1a" stroke-width="0.3">7</text>
<line x1="435.3" y1="604.5" x2="435.3" y2="606" stroke="#1a1a1a" stroke-width="0.9"/>
<text x="436.2" y="613.9" font-size="8" font-weight="bold" text-anchor="middle" textLength="3.3" lengthAdjust="spacingAndGlyphs" stroke="#1a1a1a" stroke-width="0.3">8</text>
<line x1="448.4" y1="604.5" x2="448.4" y2="606" stroke="#1a1a1a" stroke-width="0.9"/>
<text x="449.3" y="613.9" font-size="8" font-weight="bold" text-anchor="middle" textLength="3.3" lengthAdjust="spacingAndGlyphs" stroke="#1a1a1a" stroke-width="0.3">9</text>
<line x1="461.4" y1="604.5" x2="461.4" y2="606" stroke="#1a1a1a" stroke-width="0.9"/>
<text x="462.3" y="613.9" font-size="8" font-weight="bold" text-anchor="middle" textLength="6.9" lengthAdjust="spacingAndGlyphs" stroke="#1a1a1a" stroke-width="0.3">10</text>
<line x1="474.5" y1="604.5" x2="474.5" y2="606" stroke="#1a1a1a" stroke-width="0.9"/>
<text x="475.4" y="613.9" font-size="8" font-weight="bold" text-anchor="middle" textLength="6.9" lengthAdjust="spacingAndGlyphs" stroke="#1a1a1a" stroke-width="0.3">11</text>
<line x1="487.6" y1="604.5" x2="487.6" y2="606" stroke="#1a1a1a" stroke-width="0.9"/>
<text x="488.5" y="613.9" font-size="8" font-weight="bold" text-anchor="middle" textLength="6.9" lengthAdjust="spacingAndGlyphs" stroke="#1a1a1a" stroke-width="0.3">12</text>
<text transform="translate(323.2,528.2) rotate(-90)" font-size="9.0" font-weight="bold" text-anchor="middle" stroke="#1a1a1a" stroke-width="0.25" >% of <tspan font-style="italic">eEF1</tspan><tspan font-weight="normal" stroke="none" font-size="10">&#945;</tspan> RNA</text>
<text x="411" y="623.2" font-size="9" font-weight="bold" text-anchor="middle" stroke="#1a1a1a" stroke-width="0.25">fraction</text>
<line x1="418.6" y1="478.8" x2="445" y2="478.8" stroke="#1a1a1a" stroke-width="1.5"/>
<path d="M429.2,478.8 L432.3,475.7 L435.40000000000003,478.8 L432.3,481.90000000000003Z" fill="#1a1a1a"/>
<text x="447.5" y="481.8" font-size="8.2" font-weight="bold" text-anchor="start" stroke="#1a1a1a" stroke-width="0.25">RXR+4OHT</text>
<path d="M418.6,489.1 h3.6 M426.8,489.1 h3 M435.4,489.1 h2.6 M442.6,489.1 h2.5" stroke="#1a1a1a" stroke-width="1.4"/>
<rect x="429.79999999999995" y="486.5" width="5.2" height="5.2" fill="#999" stroke="#1a1a1a" stroke-width="1.2"/>
<text x="447.5" y="491.8" font-size="8.2" font-weight="bold" text-anchor="start" stroke="#1a1a1a" stroke-width="0.25">RXR+4OHT</text>
<text x="448" y="501.8" font-size="8.2" font-weight="bold" text-anchor="start" stroke="#1a1a1a" stroke-width="0.25">+rapa</text>
<text x="390" y="638" font-size="13.5" font-weight="bold" font-style="italic" stroke="#1a1a1a" stroke-width="0.25"><tspan font-weight="normal" font-style="normal" stroke="none" font-size="14.5">&#946;</tspan>-actin</text>
<rect x="337.6" y="642" width="157.2" height="136.2" fill="none" stroke="#1a1a1a" stroke-width="1.6"/>
<path d="M344.4,777.5 L357.5,770.7 L370.5,746.5 L383.6,702 L396.6,698.2 L409.7,725 L422.8,722 L435.8,754.5 L448.9,769 L461.9,774 L475.0,777 L488.1,775.7" fill="none" stroke="#1a1a1a" stroke-width="1.3" stroke-linejoin="round"/>
<path d="M344.4,777.5 L357.5,775.7 L370.5,694.2 L383.6,657 L396.6,751.2 L409.7,764.5 L422.8,775 L435.8,775.7 L448.9,777 L461.9,777.7 L475.0,777.7 L488.1,777" fill="none" stroke="#1a1a1a" stroke-width="1.3" stroke-dasharray="2.6,1.9" stroke-linejoin="round"/>
<path d="M342.59999999999997,777.5 L344.4,775.7 L346.2,777.5 L344.4,779.3Z" fill="#1a1a1a"/>
<path d="M355.7,770.7 L357.5,768.9000000000001 L359.3,770.7 L357.5,772.5Z" fill="#1a1a1a"/>
<path d="M368.7,746.5 L370.5,744.7 L372.3,746.5 L370.5,748.3Z" fill="#1a1a1a"/>
<path d="M381.8,702 L383.6,700.2 L385.40000000000003,702 L383.6,703.8Z" fill="#1a1a1a"/>
<path d="M394.8,698.2 L396.6,696.4000000000001 L398.40000000000003,698.2 L396.6,700.0Z" fill="#1a1a1a"/>
<path d="M407.9,725 L409.7,723.2 L411.5,725 L409.7,726.8Z" fill="#1a1a1a"/>
<path d="M421.0,722 L422.8,720.2 L424.6,722 L422.8,723.8Z" fill="#1a1a1a"/>
<path d="M434.0,754.5 L435.8,752.7 L437.6,754.5 L435.8,756.3Z" fill="#1a1a1a"/>
<path d="M447.09999999999997,769 L448.9,767.2 L450.7,769 L448.9,770.8Z" fill="#1a1a1a"/>
<path d="M460.09999999999997,774 L461.9,772.2 L463.7,774 L461.9,775.8Z" fill="#1a1a1a"/>
<path d="M473.2,777 L475.0,775.2 L476.8,777 L475.0,778.8Z" fill="#1a1a1a"/>
<path d="M486.3,775.7 L488.1,773.9000000000001 L489.90000000000003,775.7 L488.1,777.5Z" fill="#1a1a1a"/>
<rect x="343.29999999999995" y="776.4" width="2.2" height="2.2" fill="#fff" stroke="#1a1a1a" stroke-width="1.0"/>
<rect x="356.4" y="774.6" width="2.2" height="2.2" fill="#fff" stroke="#1a1a1a" stroke-width="1.0"/>
<rect x="369.4" y="693.1" width="2.2" height="2.2" fill="#fff" stroke="#1a1a1a" stroke-width="1.0"/>
<rect x="382.5" y="655.9" width="2.2" height="2.2" fill="#fff" stroke="#1a1a1a" stroke-width="1.0"/>
<rect x="395.5" y="750.1" width="2.2" height="2.2" fill="#fff" stroke="#1a1a1a" stroke-width="1.0"/>
<rect x="408.59999999999997" y="763.4" width="2.2" height="2.2" fill="#fff" stroke="#1a1a1a" stroke-width="1.0"/>
<rect x="421.7" y="773.9" width="2.2" height="2.2" fill="#fff" stroke="#1a1a1a" stroke-width="1.0"/>
<rect x="434.7" y="774.6" width="2.2" height="2.2" fill="#fff" stroke="#1a1a1a" stroke-width="1.0"/>
<rect x="447.79999999999995" y="775.9" width="2.2" height="2.2" fill="#fff" stroke="#1a1a1a" stroke-width="1.0"/>
<rect x="460.79999999999995" y="776.6" width="2.2" height="2.2" fill="#fff" stroke="#1a1a1a" stroke-width="1.0"/>
<rect x="473.9" y="776.6" width="2.2" height="2.2" fill="#fff" stroke="#1a1a1a" stroke-width="1.0"/>
<rect x="487.0" y="775.9" width="2.2" height="2.2" fill="#fff" stroke="#1a1a1a" stroke-width="1.0"/>
<line x1="336" y1="778.2" x2="337.6" y2="778.2" stroke="#1a1a1a" stroke-width="0.9"/>
<text x="335.3" y="779.9" font-size="8" font-weight="bold" text-anchor="end" textLength="3.3" lengthAdjust="spacingAndGlyphs" stroke="#1a1a1a" stroke-width="0.3">0</text>
<line x1="336" y1="761.2" x2="337.6" y2="761.2" stroke="#1a1a1a" stroke-width="0.9"/>
<text x="335.3" y="762.9" font-size="8" font-weight="bold" text-anchor="end" textLength="3.3" lengthAdjust="spacingAndGlyphs" stroke="#1a1a1a" stroke-width="0.3">5</text>
<line x1="336" y1="744.1" x2="337.6" y2="744.1" stroke="#1a1a1a" stroke-width="0.9"/>
<text x="335.3" y="745.8" font-size="8" font-weight="bold" text-anchor="end" textLength="6.4" lengthAdjust="spacingAndGlyphs" stroke="#1a1a1a" stroke-width="0.3">10</text>
<line x1="336" y1="727.1" x2="337.6" y2="727.1" stroke="#1a1a1a" stroke-width="0.9"/>
<text x="335.3" y="728.8" font-size="8" font-weight="bold" text-anchor="end" textLength="6.4" lengthAdjust="spacingAndGlyphs" stroke="#1a1a1a" stroke-width="0.3">15</text>
<line x1="336" y1="710.1" x2="337.6" y2="710.1" stroke="#1a1a1a" stroke-width="0.9"/>
<text x="335.3" y="711.8" font-size="8" font-weight="bold" text-anchor="end" textLength="6.4" lengthAdjust="spacingAndGlyphs" stroke="#1a1a1a" stroke-width="0.3">20</text>
<line x1="336" y1="693.1" x2="337.6" y2="693.1" stroke="#1a1a1a" stroke-width="0.9"/>
<text x="335.3" y="694.8" font-size="8" font-weight="bold" text-anchor="end" textLength="6.4" lengthAdjust="spacingAndGlyphs" stroke="#1a1a1a" stroke-width="0.3">25</text>
<line x1="336" y1="676.0" x2="337.6" y2="676.0" stroke="#1a1a1a" stroke-width="0.9"/>
<text x="335.3" y="677.7" font-size="8" font-weight="bold" text-anchor="end" textLength="6.4" lengthAdjust="spacingAndGlyphs" stroke="#1a1a1a" stroke-width="0.3">30</text>
<line x1="336" y1="659.0" x2="337.6" y2="659.0" stroke="#1a1a1a" stroke-width="0.9"/>
<text x="335.3" y="660.7" font-size="8" font-weight="bold" text-anchor="end" textLength="6.4" lengthAdjust="spacingAndGlyphs" stroke="#1a1a1a" stroke-width="0.3">35</text>
<line x1="336" y1="642.0" x2="337.6" y2="642.0" stroke="#1a1a1a" stroke-width="0.9"/>
<text x="335.3" y="643.7" font-size="8" font-weight="bold" text-anchor="end" textLength="6.4" lengthAdjust="spacingAndGlyphs" stroke="#1a1a1a" stroke-width="0.3">40</text>
<line x1="344.4" y1="778.2" x2="344.4" y2="779.8" stroke="#1a1a1a" stroke-width="0.9"/>
<text x="345.3" y="787.2" font-size="8" font-weight="bold" text-anchor="middle" textLength="3.3" lengthAdjust="spacingAndGlyphs" stroke="#1a1a1a" stroke-width="0.3">1</text>
<line x1="357.5" y1="778.2" x2="357.5" y2="779.8" stroke="#1a1a1a" stroke-width="0.9"/>
<text x="358.4" y="787.2" font-size="8" font-weight="bold" text-anchor="middle" textLength="3.3" lengthAdjust="spacingAndGlyphs" stroke="#1a1a1a" stroke-width="0.3">2</text>
<line x1="370.5" y1="778.2" x2="370.5" y2="779.8" stroke="#1a1a1a" stroke-width="0.9"/>
<text x="371.4" y="787.2" font-size="8" font-weight="bold" text-anchor="middle" textLength="3.3" lengthAdjust="spacingAndGlyphs" stroke="#1a1a1a" stroke-width="0.3">3</text>
<line x1="383.6" y1="778.2" x2="383.6" y2="779.8" stroke="#1a1a1a" stroke-width="0.9"/>
<text x="384.5" y="787.2" font-size="8" font-weight="bold" text-anchor="middle" textLength="3.3" lengthAdjust="spacingAndGlyphs" stroke="#1a1a1a" stroke-width="0.3">4</text>
<line x1="396.6" y1="778.2" x2="396.6" y2="779.8" stroke="#1a1a1a" stroke-width="0.9"/>
<text x="397.5" y="787.2" font-size="8" font-weight="bold" text-anchor="middle" textLength="3.3" lengthAdjust="spacingAndGlyphs" stroke="#1a1a1a" stroke-width="0.3">5</text>
<line x1="409.7" y1="778.2" x2="409.7" y2="779.8" stroke="#1a1a1a" stroke-width="0.9"/>
<text x="410.6" y="787.2" font-size="8" font-weight="bold" text-anchor="middle" textLength="3.3" lengthAdjust="spacingAndGlyphs" stroke="#1a1a1a" stroke-width="0.3">6</text>
<line x1="422.8" y1="778.2" x2="422.8" y2="779.8" stroke="#1a1a1a" stroke-width="0.9"/>
<text x="423.7" y="787.2" font-size="8" font-weight="bold" text-anchor="middle" textLength="3.3" lengthAdjust="spacingAndGlyphs" stroke="#1a1a1a" stroke-width="0.3">7</text>
<line x1="435.8" y1="778.2" x2="435.8" y2="779.8" stroke="#1a1a1a" stroke-width="0.9"/>
<text x="436.7" y="787.2" font-size="8" font-weight="bold" text-anchor="middle" textLength="3.3" lengthAdjust="spacingAndGlyphs" stroke="#1a1a1a" stroke-width="0.3">8</text>
<line x1="448.9" y1="778.2" x2="448.9" y2="779.8" stroke="#1a1a1a" stroke-width="0.9"/>
<text x="449.8" y="787.2" font-size="8" font-weight="bold" text-anchor="middle" textLength="3.3" lengthAdjust="spacingAndGlyphs" stroke="#1a1a1a" stroke-width="0.3">9</text>
<line x1="461.9" y1="778.2" x2="461.9" y2="779.8" stroke="#1a1a1a" stroke-width="0.9"/>
<text x="462.8" y="787.2" font-size="8" font-weight="bold" text-anchor="middle" textLength="6.9" lengthAdjust="spacingAndGlyphs" stroke="#1a1a1a" stroke-width="0.3">10</text>
<line x1="475.0" y1="778.2" x2="475.0" y2="779.8" stroke="#1a1a1a" stroke-width="0.9"/>
<text x="475.9" y="787.2" font-size="8" font-weight="bold" text-anchor="middle" textLength="6.9" lengthAdjust="spacingAndGlyphs" stroke="#1a1a1a" stroke-width="0.3">11</text>
<line x1="488.1" y1="778.2" x2="488.1" y2="779.8" stroke="#1a1a1a" stroke-width="0.9"/>
<text x="489.0" y="787.2" font-size="8" font-weight="bold" text-anchor="middle" textLength="6.9" lengthAdjust="spacingAndGlyphs" stroke="#1a1a1a" stroke-width="0.3">12</text>
<text transform="translate(325.3,708) rotate(-90)" font-size="9.05" font-weight="bold" text-anchor="middle" stroke="#1a1a1a" stroke-width="0.25" >% of <tspan font-weight="normal" stroke="none" font-size="10">&#946;</tspan><tspan font-style="italic">-actin</tspan> RNA</text>
<text x="411.2" y="796.2" font-size="9.1" font-weight="bold" text-anchor="middle" stroke="#1a1a1a" stroke-width="0.25">fraction</text>
</svg></body></html>
